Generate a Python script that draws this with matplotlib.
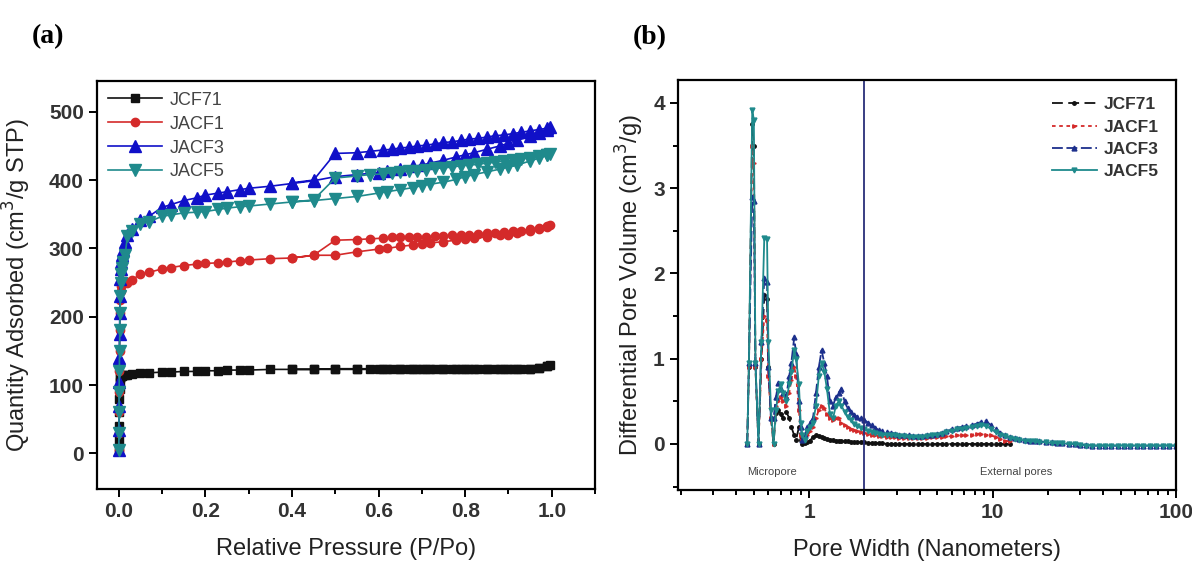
import matplotlib
matplotlib.use("Agg")
import matplotlib.pyplot as plt
from matplotlib.ticker import MultipleLocator, LogLocator, NullFormatter

plt.rcParams["font.family"] = ["Liberation Sans", "DejaVu Sans"]

# ---- colours ----
C_BLACK = "#111111"
C_RED = "#d42a2a"
C_BLUE = "#1010c8"
C_TEAL = "#1f8a8c"
C_NAVY = "#1c2f8c"
C_LINE = "#2a2f7a"

SAMPLES = ["JCF71", "JACF1", "JACF3", "JACF5"]

# ---- (a) N2 isotherms: adsorption branch ----
P_ADS = [0.0002, 0.0005, 0.0008, 0.001, 0.0015, 0.002, 0.0025, 0.003, 0.004,
         0.005, 0.006, 0.008, 0.01, 0.015,
         0.02, 0.03, 0.05, 0.07, 0.1, 0.12, 0.15, 0.18, 0.2, 0.23, 0.25, 0.28,
         0.3, 0.35, 0.4, 0.45, 0.5, 0.55, 0.6, 0.62, 0.65, 0.68, 0.7, 0.72,
         0.75, 0.78, 0.8, 0.82, 0.85, 0.88, 0.9, 0.92, 0.95, 0.97, 0.99, 0.995]
ADS_JCF71 = [5, 20, 40, 60, 80, 95, 105, 110, 112, 113, 114, 114, 115, 115,
             115, 116, 117, 118, 119, 119, 120, 120, 121, 121, 122, 122,
             122, 123, 123, 123, 123, 123, 123, 123, 123, 123, 123, 123,
             123, 123, 123, 123, 123, 123, 123, 123, 124, 125, 128, 130]
ADS_JACF1 = [5, 30, 60, 90, 120, 150, 180, 205, 225, 238, 245, 248, 250, 252,
             249, 254, 262, 265, 270, 272, 275, 277, 278, 279, 280, 282,
             283, 285, 286, 290, 290, 295, 299, 300, 303, 305, 307, 308,
             310, 312, 314, 315, 317, 319, 320, 322, 326, 329, 332, 334]
ADS_JACF3 = [5, 35, 70, 105, 140, 175, 205, 230, 255, 270, 280, 290, 298, 310,
             320, 328, 341, 347, 360, 364, 370, 374, 378, 381, 383, 386,
             388, 391, 395, 399, 405, 408, 411, 413, 416, 420, 422, 425,
             429, 434, 437, 440, 445, 450, 454, 458, 464, 469, 474, 477]
ADS_JACF5 = [5, 30, 60, 90, 120, 150, 180, 205, 230, 250, 262, 272, 280, 290,
             318, 325, 336, 339, 347, 349, 352, 353, 354, 357, 359, 361,
             362, 365, 368, 370, 373, 376, 381, 383, 386, 389, 392, 394,
             397, 401, 405, 408, 412, 416, 419, 422, 428, 432, 436, 438]

# ---- (a) desorption branch ----
P_DES = [0.99, 0.97, 0.95, 0.93, 0.91, 0.89, 0.87, 0.85, 0.83, 0.81, 0.79,
         0.77, 0.75, 0.73, 0.71, 0.69, 0.67, 0.65, 0.63, 0.61, 0.58, 0.55,
         0.5, 0.45, 0.4]
DES_JCF71 = [128, 125, 124, 124, 124, 124, 124, 124, 124, 124, 124, 124, 124,
             124, 124, 124, 124, 124, 124, 124, 124, 124, 124, 123, 123]
DES_JACF1 = [333, 330, 328, 326, 325, 324, 323, 322, 321, 320, 320, 319, 318,
             318, 317, 317, 316, 316, 316, 315, 314, 313, 312, 290, 286]
DES_JACF3 = [476, 474, 472, 470, 468, 466, 465, 463, 461, 460, 458, 456, 455,
             453, 451, 450, 448, 447, 445, 444, 442, 440, 439, 400, 396]
DES_JACF5 = [437, 435, 433, 431, 429, 428, 426, 425, 423, 422, 421, 419, 418,
             417, 415, 414, 413, 412, 411, 409, 408, 406, 403, 371, 368]

# ---- (b) pore size distribution ----
WIDTH = [0.46, 0.47, 0.49, 0.50, 0.51, 0.53, 0.55, 0.57, 0.59, 0.60, 0.62,
         0.64, 0.66, 0.68, 0.70, 0.72, 0.75, 0.78, 0.80, 0.83, 0.85, 0.88,
         0.90, 0.92, 0.95, 0.98, 1.01, 1.05, 1.09, 1.13, 1.17, 1.21, 1.25,
         1.30, 1.35, 1.40, 1.45, 1.50, 1.56, 1.62, 1.69, 1.76, 1.83, 1.91,
         2.0, 2.1, 2.2, 2.3, 2.4, 2.5, 2.65, 2.8, 2.95, 3.1, 3.3, 3.5, 3.7,
         3.9, 4.1, 4.4, 4.7, 5.0, 5.3, 5.6, 6.0, 6.4, 6.8, 7.2, 7.7, 8.2,
         8.7, 9.2, 9.8, 10.4, 11.0, 11.7, 12.4, 13.2, 14.0, 15.0, 16.0, 17.0,
         18.0, 19.5, 21.0, 22.5, 24.0, 26.0, 28.0, 30.0, 32.5, 35.0, 38.0,
         41.0, 44.0, 48.0, 52.0, 56.0, 61.0, 66.0, 72.0, 78.0, 85.0, 92.0,
         100.0]
PSD_JCF71 = [0.0, 0.9, 3.75, 3.5, 0.9, 0.0, 1.0, 1.75, 1.7, 0.9, 0.3,
             0.0, 0.36, 0.4, 0.35, 0.3, 0.38, 0.3, 0.2, 0.1, 0.05, 0.2,
             0.05, 0.0, 0.01, 0.02, 0.04, 0.08, 0.1, 0.09, 0.08, 0.07, 0.06,
             0.05, 0.05, 0.04, 0.04, 0.03, 0.03, 0.03, 0.02, 0.02, 0.02, 0.02,
             0.02, 0.01, 0.01, 0.01, 0.01, 0.01, 0.0, 0.0, 0.0, 0.0, 0.0, 0.0,
             0.0, 0.0, 0.0, 0.0, 0.0, 0.0, 0.0, 0.0, 0.0, 0.0, 0.0, 0.0, 0.0,
             0.0, 0.0, 0.0, 0.0, 0.0, 0.0, 0.0, 0.0]
PSD_JACF1 = [0.0, 0.9, 3.5, 3.3, 0.9, 0.0, 1.0, 1.5, 1.45, 0.8, 0.3,
             0.0, 0.45, 0.5, 0.55, 0.5, 0.45, 0.6, 0.75, 0.9, 0.8, 0.4,
             0.1, 0.05, 0.05, 0.1, 0.15, 0.2, 0.3, 0.4, 0.45, 0.42, 0.35,
             0.3, 0.28, 0.3, 0.3, 0.25, 0.22, 0.2, 0.18, 0.16, 0.15, 0.14,
             0.13, 0.12, 0.11, 0.1, 0.09, 0.09, 0.08, 0.08, 0.08, 0.07, 0.07,
             0.07, 0.07, 0.07, 0.07, 0.07, 0.08, 0.08, 0.08, 0.09, 0.09, 0.1,
             0.1, 0.1, 0.11, 0.12, 0.12, 0.11, 0.1, 0.08, 0.06, 0.04, 0.03]
PSD_JACF3 = [0.0, 0.95, 2.9, 2.85, 0.95, 0.0, 1.2, 1.95, 1.9, 0.9, 0.3,
             0.3, 0.55, 0.72, 0.65, 0.6, 0.55, 0.8, 0.95, 1.25, 1.05, 0.5,
             0.2, 0.05, 0.1, 0.2, 0.25, 0.3, 0.6, 0.9, 1.1, 0.95, 0.8,
             0.5, 0.45, 0.55, 0.6, 0.65, 0.5, 0.42, 0.37, 0.34, 0.32, 0.3,
             0.28, 0.25, 0.22, 0.19, 0.16, 0.15, 0.14, 0.13, 0.12, 0.11, 0.1,
             0.1, 0.09, 0.09, 0.09, 0.1, 0.11, 0.12, 0.13, 0.15, 0.17, 0.19,
             0.2, 0.21, 0.22, 0.24, 0.26, 0.27, 0.22, 0.17, 0.13, 0.1, 0.08,
             0.07, 0.06, 0.05, 0.04, 0.03, 0.03, 0.02, 0.02, 0.01, 0.01, 0.0,
             0.0, -0.01, -0.01, -0.02, -0.02, -0.02, -0.02, -0.02, -0.02,
             -0.02, -0.02, -0.02, -0.02, -0.02, -0.02, -0.02, -0.02]
PSD_JACF5 = [0.0, 0.95, 3.92, 3.8, 0.95, 0.0, 1.2, 2.42, 2.4, 1.2, 0.4,
             0.0, 0.4, 0.62, 0.7, 0.6, 0.5, 0.7, 0.85, 1.1, 1.0, 0.7,
             0.25, 0.1, 0.05, 0.15, 0.2, 0.25, 0.45, 0.8, 0.95, 0.85, 0.65,
             0.35, 0.3, 0.45, 0.5, 0.45, 0.38, 0.32, 0.28, 0.24, 0.21, 0.19,
             0.17, 0.15, 0.14, 0.13, 0.12, 0.11, 0.11, 0.1, 0.1, 0.09, 0.09,
             0.08, 0.08, 0.08, 0.08, 0.09, 0.1, 0.11, 0.12, 0.14, 0.15, 0.17,
             0.18, 0.19, 0.2, 0.21, 0.22, 0.21, 0.18, 0.14, 0.11, 0.09, 0.07,
             0.06, 0.05, 0.04, 0.03, 0.03, 0.02, 0.02, 0.01, 0.01, 0.01, 0.0,
             0.0, -0.01, -0.02, -0.02, -0.02, -0.02, -0.02, -0.02, -0.02,
             -0.02, -0.02, -0.02, -0.02, -0.02, -0.02, -0.02, -0.02]


def style_axes(ax):
    for sp in ax.spines.values():
        sp.set_linewidth(1.6)
    ax.tick_params(which="both", direction="out", top=False, right=False,
                   width=1.4)
    ax.tick_params(which="major", length=6, labelsize=15)
    ax.tick_params(which="minor", length=3.5)
    for lab in ax.get_xticklabels() + ax.get_yticklabels():
        lab.set_fontweight("bold")
        lab.set_color("#333333")


fig = plt.figure(figsize=(11.92, 5.62), dpi=100)

# ------------------------------------------------------------------ #
#  (a) isotherms
# ------------------------------------------------------------------ #
ax_a = fig.add_axes([0.0814, 0.1299, 0.4178, 0.726])
iso = [
    (ADS_JCF71, DES_JCF71, C_BLACK, "s", 6),
    (ADS_JACF1, DES_JACF1, C_RED, "o", 6),
    (ADS_JACF3, DES_JACF3, C_BLUE, "^", 8),
    (ADS_JACF5, DES_JACF5, C_TEAL, "v", 8),
]
for name, (ads, des, col, mk, ms) in zip(SAMPLES, iso):
    ax_a.plot(P_ADS + P_DES, ads + des, color=col, marker=mk, markersize=ms,
              linewidth=1.2, label=name)

ax_a.set_xlim(-0.05, 1.1)
ax_a.set_ylim(-52, 545)
ax_a.xaxis.set_minor_locator(MultipleLocator(0.1))
ax_a.yaxis.set_major_locator(MultipleLocator(100))
ax_a.set_xticks([0, 0.2, 0.4, 0.6, 0.8, 1.0])
ax_a.set_xticklabels(["0.0", "0.2", "0.4", "0.6", "0.8", "1.0"])
style_axes(ax_a)
ax_a.set_xlabel("Relative Pressure (P/Po)", fontsize=17, labelpad=12,
                color="#222222")
ax_a.set_ylabel("Quantity Adsorbed (cm$^3$/g STP)", fontsize=17,
                color="#222222")
ax_a.yaxis.set_label_coords(-0.128, 0.5)
leg_a = ax_a.legend(loc="upper left", frameon=False, fontsize=13,
                    handlelength=3.0, borderaxespad=0.2, labelspacing=0.38,
                    handletextpad=0.4)
for t in leg_a.get_texts():
    t.set_color("#444444")

# ------------------------------------------------------------------ #
#  (b) pore size distribution
# ------------------------------------------------------------------ #
ax_b = fig.add_axes([0.5688, 0.1281, 0.4178, 0.7296])
psd = [
    (PSD_JCF71, C_BLACK, "o", (0, (6, 3)), 2.5),
    (PSD_JACF1, C_RED, ">", (0, (2, 2)), 2.5),
    (PSD_JACF3, C_NAVY, "^", (0, (6, 2)), 3.5),
    (PSD_JACF5, C_TEAL, "v", "-", 3.5),
]
for name, (vals, col, mk, ls, ms) in zip(SAMPLES, psd):
    ax_b.plot(WIDTH[:len(vals)], vals, color=col, marker=mk, markersize=ms,
              linestyle=ls, linewidth=1.3, label=name)

ax_b.axvline(2.0, color=C_LINE, linewidth=1.3)
ax_b.text(0.63, -0.33, "Micropore", fontsize=8, ha="center", va="center",
          color="#444444")
ax_b.text(13.5, -0.33, "External pores", fontsize=8, ha="center",
          va="center", color="#444444")

ax_b.set_xscale("log")
ax_b.set_xlim(0.193, 100)
ax_b.set_ylim(-0.54, 4.27)
ax_b.set_xticks([1, 10, 100])
ax_b.set_xticklabels(["1", "10", "100"])
ax_b.xaxis.set_minor_locator(LogLocator(base=10, subs=range(2, 10)))
ax_b.xaxis.set_minor_formatter(NullFormatter())
ax_b.yaxis.set_major_locator(MultipleLocator(1))
ax_b.yaxis.set_minor_locator(MultipleLocator(0.5))
style_axes(ax_b)
ax_b.set_xlabel("Pore Width (Nanometers)", fontsize=17, labelpad=12,
                color="#222222")
ax_b.set_ylabel("Differential Pore Volume (cm$^3$/g)", fontsize=17,
                color="#222222")
ax_b.yaxis.set_label_coords(-0.064, 0.5)
leg_b = ax_b.legend(loc="upper right", frameon=False,
                    handlelength=2.6, borderaxespad=0.6, labelspacing=0.4,
                    handletextpad=0.4, prop={"weight": "bold", "size": 12.5})
for t in leg_b.get_texts():
    t.set_color("#333333")

# ---- panel letters ----
fig.text(0.040, 0.935, "(a)", fontsize=20, fontweight="bold",
         family=["Liberation Serif", "DejaVu Serif"], ha="center",
         va="center")
fig.text(0.545, 0.933, "(b)", fontsize=20, fontweight="bold",
         family=["Liberation Serif", "DejaVu Serif"], ha="center",
         va="center")

fig.savefig("out.png", dpi=100)
